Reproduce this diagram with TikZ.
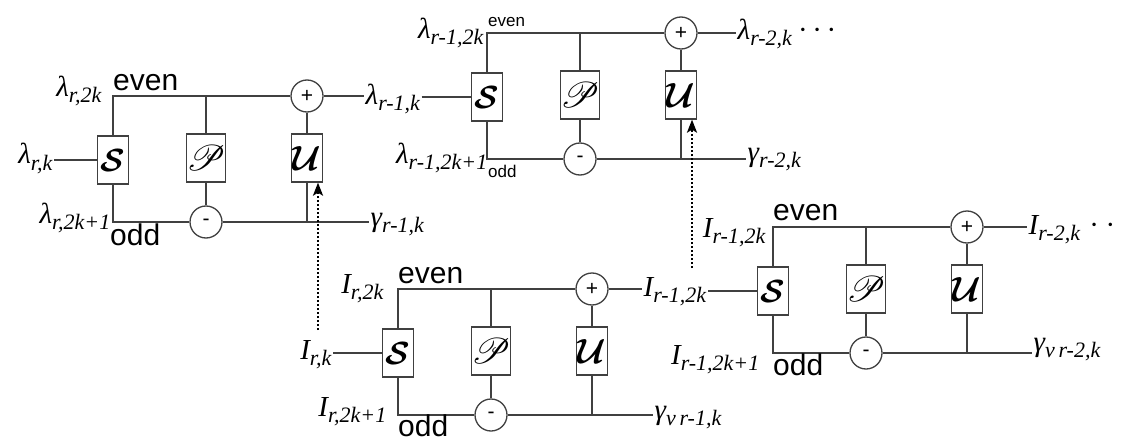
\RequirePackage{fix-cm}
\documentclass[tikz,border=0pt]{standalone}
\usepackage{fontspec}
\setmainfont{Liberation Serif}
\newfontfamily\arialf{Liberation Sans}
\usepackage{bm}
\usepackage{mathrsfs}
\usepackage{graphicx}
\usetikzlibrary{arrows.meta}

\newcommand\sbs[1]{\raisebox{-6pt}{\fontsize{22}{22}\selectfont #1}}
\newcommand\dotsep{\hspace{7pt}}
\newcommand\opS{\resizebox{!}{22pt}{$\bm{\mathcal{S}}$}}
\newcommand\opP{\resizebox{!}{25pt}{$\bm{\mathscr{P}}$}}
\newcommand\opU{\resizebox{!}{24pt}{$\bm{\mathcal{U}}$}}

\tikzset{
  wire/.style={line width=1.3pt, draw=black!75},
  opbox/.style={draw=black!75, line width=1.3pt, minimum width=31pt, minimum height=48pt, inner sep=0pt, fill=white},
  opcirc/.style={circle, draw=black!75, line width=1.3pt, minimum size=32pt, inner sep=0pt, fill=white, font=\arialf\fontsize{21}{21}\selectfont},
  lab/.style={inner sep=1.5pt, font=\fontsize{29}{29}\selectfont\itshape},
  eobig/.style={inner sep=0pt, font=\arialf\fontsize{30}{30}\selectfont},
  eosmall/.style={inner sep=0pt, font=\arialf\fontsize{17}{17}\selectfont},
  feedback/.style={line width=2.2pt, draw=black, dash pattern=on 2pt off 2pt, -{Stealth[length=13pt,width=10pt,inset=3pt]}}
}

% one lifting stage: #1 name prefix, (#2,#3) top-left corner
\newcommand\liftblk[3]{%
  \begin{scope}[shift={(#2,#3)}]
    \coordinate (#1tl) at (0,0);
    \node[opbox] (#1S) at (0,64) {\opS};
    \node[opbox] (#1P) at (93,62) {\opP};
    \node[opbox] (#1U) at (194,62) {\opU};
    \node[opcirc] (#1plus) at (194,0) {+};
    \node[opcirc] (#1minus) at (93,126) {-};
  \end{scope}
  \draw[wire] (#1S.north) |- (#1plus.west);
  \draw[wire] (#1S.south) |- (#1minus.west);
  \draw[wire] (#1P.north) -- (#1P.north |- #1tl);
  \draw[wire] (#1P.south) -- (#1minus.north);
  \draw[wire] (#1U.north) -- (#1plus.south);
  \draw[wire] (#1U.south) -- (#1U.south |- #1minus);
}

\begin{document}
\begin{tikzpicture}[x=1pt,y=-1pt]
\fill[white] (0,0) rectangle (1132,441);
\useasboundingbox (0,0) rectangle (1132,441);

\liftblk{ba}{113}{96}
\liftblk{bb}{487}{33}
\liftblk{bc}{398}{289}
\liftblk{bd}{773}{227}

% ---- labels, block a
\node[lab, anchor=base east] (la2k) at (103,97) {λ\sbs{r,2k}};
\node[eobig, anchor=base west] (laeven) at (113,91) {even};
\node[lab, anchor=base east] (lain) at (54,164) {λ\sbs{r,k}};
\node[lab, anchor=base east] (la2k1) at (112,223) {λ\sbs{r,2k+1}};
\node[eobig, anchor=base west] (laodd) at (110,245) {odd};
\node[lab, anchor=base west] (laout) at (364,105) {λ\sbs{r-1,k}};
\node[lab, anchor=base west] (lagam) at (369,226) {γ\sbs{r-1,k}};

% ---- labels, block b
\node[lab, anchor=base east] (lb2k) at (485,39) {λ\sbs{r-1,2k}};
\node[eosmall, anchor=base west] (lbeven) at (488,27) {even};
\node[lab, anchor=base east] (lb2k1) at (489,163) {λ\sbs{r-1,2k+1}};
\node[eosmall, anchor=base west] (lbodd) at (488,177) {odd};
\node[lab, anchor=base west] (lbout) at (736,40) {λ\sbs{r-2,k}\dotsep·\dotsep·\dotsep·};
\node[lab, anchor=base west] (lbgam) at (746,161) {γ\sbs{r-2,k}};

% ---- labels, block c
\node[lab, anchor=base east] (lc2k) at (385,293) {\textit{I}\sbs{r,2k}};
\node[eobig, anchor=base west] (lceven) at (398,283) {even};
\node[lab, anchor=base east] (lcin) at (333,359) {\textit{I}\sbs{r,k}};
\node[lab, anchor=base east] (lc2k1) at (388,416) {\textit{I}\sbs{r,2k+1}};
\node[eobig, anchor=base west] (lcodd) at (398,436) {odd};
\node[lab, anchor=base west] (lcout) at (642,296) {\textit{I}\sbs{r-1,2k}};
\node[lab, anchor=base west] (lcgam) at (653,419) {γ\sbs{v\,r-1,k}};

% ---- labels, block d
\node[lab, anchor=base east] (ld2k) at (767,237) {\textit{I}\sbs{r-1,2k}};
\node[eobig, anchor=base west] (ldeven) at (773,220) {even};
\node[lab, anchor=base east] (ld2k1) at (761,364) {\textit{I}\sbs{r-1,2k+1}};
\node[eobig, anchor=base west] (ldodd) at (773,375) {odd};
\node[lab, anchor=base west] (ldout) at (1027,234) {\textit{I}\sbs{r-2,k}\hspace{10pt}·\hspace{9pt}·};
\node[lab, anchor=base west] (ldgam) at (1032,351) {γ\sbs{v\,r-2,k}};

% ---- external connectors
\draw[wire] (lain.east |- baS.west) -- (baS.west);
\draw[wire] (baplus.east) -- (baplus.east -| laout.west);
\draw[wire] (laout.east |- bbS.west) -- (bbS.west);
\draw[wire] (baminus.east) -- (baminus.east -| lagam.west);
\draw[wire] (bbplus.east) -- (bbplus.east -| lbout.west);
\draw[wire] (bbminus.east) -- (bbminus.east -| lbgam.west);

\draw[wire] (lcin.east |- bcS.west) -- (bcS.west);
\draw[wire] (bcplus.east) -- (bcplus.east -| lcout.west);
\draw[wire] (lcout.east |- bdS.west) -- (bdS.west);
\draw[wire] (bcminus.east) -- (bcminus.east -| lcgam.west);
\draw[wire] (bdplus.east) -- (bdplus.east -| ldout.west);
\draw[wire] (bdminus.east) -- (bdminus.east -| ldgam.west);

% ---- dotted feedback arrows
\coordinate (fa) at (318,330);
\coordinate (fb) at (692,268);
\draw[feedback] (fa) -- (fa |- baU.south);
\draw[feedback] (fb) -- (fb |- bbU.south);
\end{tikzpicture}
\end{document}
